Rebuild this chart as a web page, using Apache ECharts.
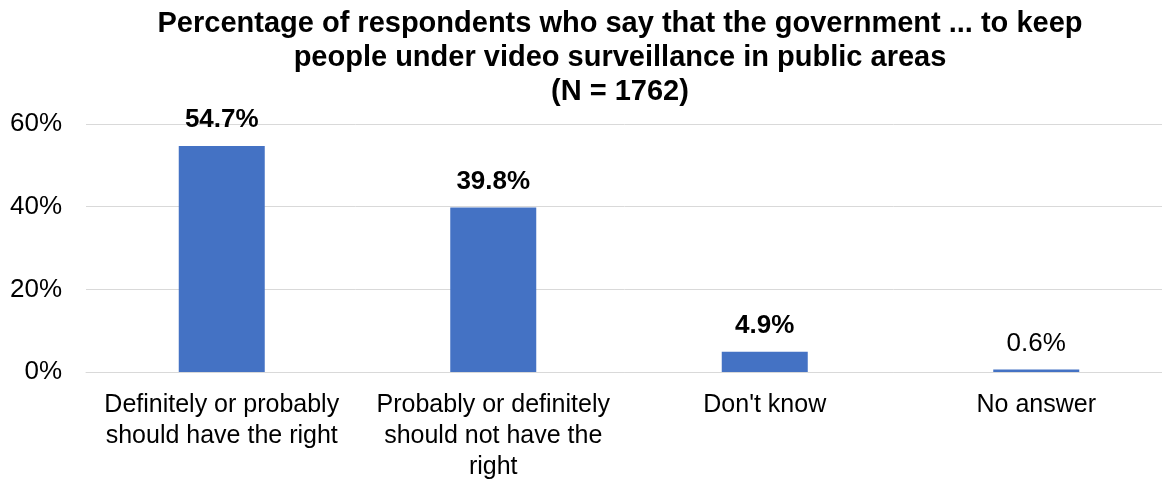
<!DOCTYPE html>
<html>
<head>
<meta charset="utf-8">
<script src="https://cdn.jsdelivr.net/npm/echarts@6/dist/echarts.min.js"></script>
<style>
  html, body { margin: 0; padding: 0; background: #fff; }
  #chart { width: 1162px; height: 481px; }
</style>
</head>
<body>
<div id="chart"></div>
<script>
// Survey answers on government video surveillance in public areas
const titleLines = [
  'Percentage of respondents who say that the government ... to keep',
  'people under video surveillance in public areas',
  '(N = 1762)'
];
const categories = [
  'Definitely or probably\nshould have the right',
  'Probably or definitely\nshould not have the\nright',
  "Don't know",
  'No answer'
];
const shares = [54.7, 39.8, 4.9, 0.6];
const boldLabel = [true, true, true, false];
const yTicks = [0, 20, 40, 60];

const FONT = '"Liberation Sans", Arial, sans-serif';
const chart = echarts.init(document.getElementById('chart'));

chart.setOption({
  animation: false,
  textStyle: { fontFamily: FONT },
  title: {
    text: titleLines.join('\n'),
    left: 615,
    top: 2,
    textAlign: 'center',
    textStyle: {
      fontFamily: FONT,
      fontSize: 29,
      fontWeight: 'bold',
      color: '#000',
      lineHeight: 34
    }
  },
  // plot area runs slightly past the right edge of the canvas
  grid: {
    left: 86, width: 1086, top: 124, bottom: 109,
    containLabel: false,
    outerBoundsMode: 'none'
  },
  xAxis: {
    type: 'category',
    data: categories,
    axisLine: { show: true, lineStyle: { color: '#d9d9d9', width: 1 } },
    axisTick: { show: false },
    axisLabel: {
      fontFamily: FONT,
      fontSize: 25,
      color: '#000',
      lineHeight: 31,
      margin: 18,
      interval: 0
    }
  },
  yAxis: {
    type: 'value',
    min: yTicks[0],
    max: yTicks[yTicks.length - 1],
    interval: 20,
    axisLine: { show: false },
    axisTick: { show: false },
    splitLine: { lineStyle: { color: '#d9d9d9', width: 1 } },
    axisLabel: {
      fontFamily: FONT,
      fontSize: 26,
      color: '#000',
      margin: 24,
      formatter: v => v + '%'
    }
  },
  series: [{
    type: 'bar',
    barWidth: 86,
    itemStyle: { color: '#4472C4' },
    data: shares.map((v, i) => ({
      value: v,
      label: { fontWeight: boldLabel[i] ? 'bold' : 'normal' }
    })),
    label: {
      show: true,
      position: 'top',
      distance: 13,
      fontFamily: FONT,
      fontSize: 26,
      color: '#000',
      formatter: p => p.value.toFixed(1) + '%'
    }
  }]
});
</script>
</body>
</html>
